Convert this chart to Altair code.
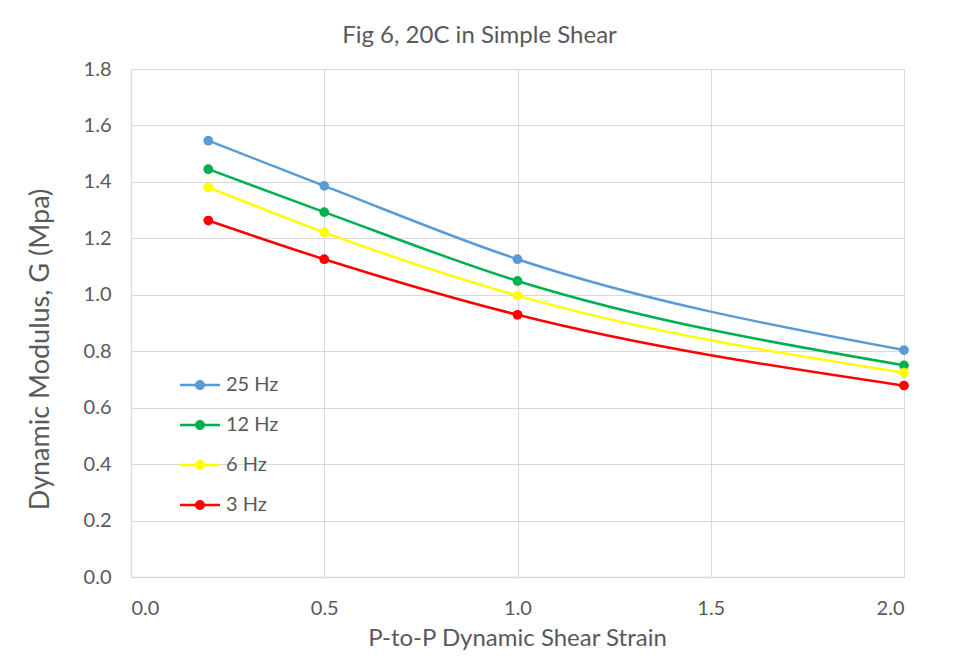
import altair as alt
import pandas as pd

strain = [0.2, 0.5, 1.0, 2.0]
series = ["25 Hz", "12 Hz", "6 Hz", "3 Hz"]
g_25 = [1.546, 1.386, 1.126, 0.804]
g_12 = [1.445, 1.293, 1.049, 0.750]
g_6 = [1.381, 1.221, 0.997, 0.724]
g_3 = [1.263, 1.126, 0.929, 0.678]
colors = ["#5B9BD5", "#00B050", "#FFFF00", "#FF0000"]

rows = []
for name, vals in zip(series, [g_25, g_12, g_6, g_3]):
    for s, v in zip(strain, vals):
        rows.append({"strain": s, "G": v, "series": name})
df = pd.DataFrame(rows)

FONT = "Lato"
GREY = "#595959"
GRID = "#D9D9D9"

legend_symbol = ("M-1,-0.06L1,-0.06L1,0.06L-1,0.06Z"
                 "M-0.25,0A0.25,0.25 0 1,1 0.25,0A0.25,0.25 0 1,1 -0.25,0Z")

x = alt.X("strain:Q",
          scale=alt.Scale(domain=[0, 2], nice=False),
          axis=alt.Axis(title="P-to-P Dynamic Shear Strain", values=[0, 0.5, 1.0, 1.5, 2.0],
                        format=".1f", labelPadding=21, titleX=386, titleY=68,
                        titleBaseline="alphabetic", titleFontSize=24))
y = alt.Y("G:Q",
          scale=alt.Scale(domain=[0, 1.8], nice=False),
          axis=alt.Axis(title="Dynamic Modulus, G (Mpa)",
                        values=[0, 0.2, 0.4, 0.6, 0.8, 1.0, 1.2, 1.4, 1.6, 1.8],
                        format=".1f", labelPadding=20, titleX=-83, titleY=280,
                        titleAngle=-90, titleBaseline="alphabetic", titleFontSize=27))
color_scale = alt.Scale(domain=series, range=colors)
legend = alt.Legend(title=None, orient="none", legendX=49, legendY=296,
                    symbolType=legend_symbol, symbolSize=1600,
                    symbolStrokeWidth=0, labelFontSize=20,
                    labelFont=FONT, labelColor=GREY, labelOffset=6,
                    rowPadding=10, padding=0)

base = alt.Chart(df).encode(x=x, y=y,
                            color=alt.Color("series:N", scale=color_scale, legend=legend))

lines = base.mark_line(interpolate="monotone", strokeWidth=2.5)
points = base.mark_point(filled=True, size=95, opacity=1)

chart = (lines + points).properties(
    width=773, height=508,
    autosize=alt.AutoSizeParams(type="none"),
    padding={"left": 123, "top": 61, "right": 48, "bottom": 73},
    title=alt.TitleParams("Fig 6, 20C in Simple Shear", anchor="middle", frame="group",
                          dx=-38, offset=11, fontSize=24,
                          font=FONT, fontWeight="normal", color=GREY),
).configure(background="white").configure_axis(
    domainColor=GRID, gridColor=GRID, gridWidth=1, domainWidth=1.3,
    ticks=False, labelFont=FONT, labelFontSize=20, labelColor=GREY,
    titleFont=FONT, titleColor=GREY, titleFontWeight="normal",
).configure_view(stroke=None)

chart.save("out.html", embed_options={"renderer": "svg", "actions": False})
